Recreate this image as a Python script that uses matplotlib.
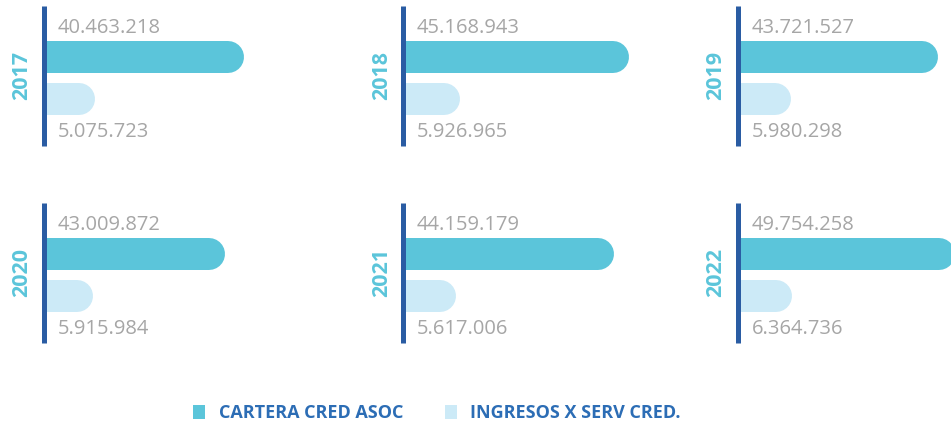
import numpy as np
import matplotlib
matplotlib.use("Agg")
import matplotlib.pyplot as plt
from matplotlib.patches import Patch

# Data
years = ['2017', '2018', '2019', '2020', '2021', '2022']
cartera = [40463218, 45168943, 43721527, 43009872, 44159179, 49754258]
ingresos = [5075723, 5926965, 5980298, 5915984, 5617006, 6364736]
series_labels = ['CARTERA CRED ASOC', 'INGRESOS X SERV CRED.']

# per-panel axis limits (the original infographic is not drawn to one scale)
x_max = [68.1e6, 64.7e6, 73.7e6, 83.0e6, 69.4e6, 75.0e6]

c_big = '#5BC5DA'
c_small = '#CCEAF7'
c_spine = '#2A5CA3'
c_num = '#A6A6A6'
c_legend = '#2C6DB5'

plt.rcParams['font.family'] = ['Open Sans', 'DejaVu Sans']

W, H = 951, 425
fig = plt.figure(figsize=(W / 100, H / 100), dpi=100)

col_left = [43.5, 403, 737.5]
row_top = [6, 203]
ax_w, ax_h = 280, 139.5
bar_lw = 32 * 72 / 100  # 32 px thick bars

p = 0.8
fwd = lambda x: np.power(np.clip(x, 0, None), p)
inv = lambda y: np.power(np.clip(y, 0, None), 1 / p)

# y layout: big bar at 0, small bar at 1 (41.5 px apart)
unit = 41.5
y_top = -51 / unit
y_bot = (ax_h - 51) / unit

for i, yr in enumerate(years):
    r, c = divmod(i, 3)
    left = col_left[c] / W
    bottom = 1 - (row_top[r] + ax_h) / H
    ax = fig.add_axes([left, bottom, ax_w / W, ax_h / H])
    ax.set_xscale('function', functions=(fwd, inv))
    ax.set_xlim(0, x_max[i])
    ax.set_ylim(y_bot, y_top)

    ax.plot([0, cartera[i]], [0, 0], color=c_big, lw=bar_lw,
            solid_capstyle='round', zorder=2)
    ax.plot([0, ingresos[i]], [1, 1], color=c_small, lw=bar_lw,
            solid_capstyle='round', zorder=2)

    fmt = lambda v: f"{v:,}".replace(',', '.')
    ax.annotate(fmt(cartera[i]), xy=(0, -24 / unit), xytext=(10, 0),
                textcoords='offset points', ha='left', va='baseline',
                fontsize=14.5, color=c_num)
    ax.annotate(fmt(ingresos[i]), xy=(0, 1 + 38.5 / unit), xytext=(10, 0),
                textcoords='offset points', ha='left', va='baseline',
                fontsize=14.5, color=c_num)

    ax.annotate(yr, xy=(0, 0.5), xycoords='axes fraction', xytext=(-15.5, 0),
                textcoords='offset points', rotation=90, ha='center',
                va='center', fontsize=15.5, fontweight='bold', color=c_big)

    for s in ['top', 'right', 'bottom']:
        ax.spines[s].set_visible(False)
    ax.spines['left'].set_color(c_spine)
    ax.spines['left'].set_linewidth(5 * 72 / 100)
    ax.spines['left'].set_capstyle('butt')
    ax.set_xticks([])
    ax.set_yticks([])
    ax.minorticks_off()
    ax.patch.set_alpha(0)

handles = [Patch(facecolor=c_big, edgecolor='none'),
           Patch(facecolor=c_small, edgecolor='none')]
fig.legend(handles, series_labels, ncol=2, loc='center',
           bbox_to_anchor=(437 / W, 1 - 413 / H), frameon=False,
           prop={'family': 'Open Sans', 'weight': 'bold', 'size': 13},
           labelcolor=c_legend, handlelength=0.66, handleheight=0.78,
           handletextpad=0.75, columnspacing=2.3)

fig.savefig('out.png', dpi=100)
